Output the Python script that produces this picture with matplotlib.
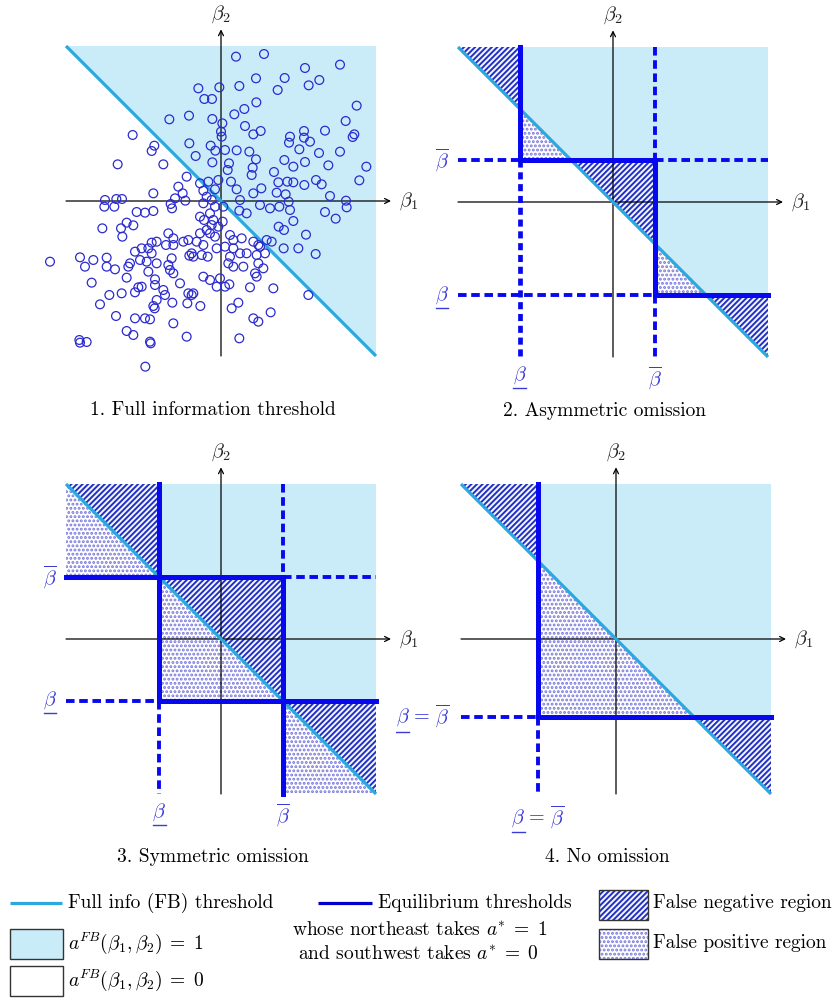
import matplotlib
matplotlib.use('Agg')
import matplotlib.pyplot as plt
from matplotlib.patches import Polygon, Rectangle

plt.rcParams['font.family'] = 'cmr10'
plt.rcParams['mathtext.fontset'] = 'cm'
plt.rcParams['axes.unicode_minus'] = False
plt.rcParams['hatch.linewidth'] = 1.4

# colours
FB_COLOR = '#2aa8df'
FILL = '#c9ecf8'
EQ = '#0808ee'
HATCH = '#2030c4'
DOTS = '#7878dc'
LABEL = '#3a3ad8'
PTS = '#2b2bd0'

# box half-width (beta units) and thresholds of each panel
B = 4.65
asym_lo, asym_hi = -2.8, 1.25
sym_lo, sym_hi = -1.85, 1.85
noom_t = -2.33

# panel 1: draws (beta1, beta2)
beta1_pts = [
    0.45, 1.29, 2.52, 3.57, 1.05, 1.91, 2.95, 2.63, 1.70, 0.55, -0.05, -0.68, -0.50, -0.27, 1.06, 4.07, 0.70, 0.40,
    -1.55, -0.96, -0.26, 0.04, 0.72, 0.00, 0.02, 0.97, 1.19, 2.49, 3.12, 3.74, 2.07, 2.04, 2.49, 2.67, 4.00, 3.95, -2.65,
    -0.95, -0.31, -0.17, 0.12, 0.47, 0.85, 1.05, -0.76, -2.00, -2.08, -1.73, -3.10, -0.26, 0.24, 0.20, 1.90, 2.17, 2.52,
    2.35, 2.94, 3.57, 3.22, 4.36, 4.15, 0.95, 0.92, 1.59,
    -1.03, -0.63, -0.38, -0.08, 0.30, 0.47, -0.18, 1.72, 1.99, 2.17, 2.50, 2.85, 3.02, 1.21, 0.97, 1.67, 1.94, 3.27,
    3.75, 3.77, -1.28, -1.15, -0.53, -0.43, -2.03, -1.07, -1.38,
    -3.48, -3.14, -2.97, -3.50, -3.20, -1.51, -1.47,
    -0.53, -0.28, -0.18, 0.07, 0.57, 0.55, 0.77, 1.17, 1.47, 1.75, 2.03, 2.07, 3.12, 3.44, 2.17, 1.73, 1.89, 2.55, 2.32,
    2.84, 1.88,
    -2.53, -2.28, -2.03, -3.56, -3.00, -2.83, -2.63, -2.96,
    -0.63, -0.51, -0.33, -0.23, -0.08, 0.05, -0.28, -0.43, -0.18, -0.63, -0.33,
    -1.13, -0.98, -0.73, -0.53, -1.58, -1.43, -1.43, -1.65, -1.93, -2.08, -2.18, -2.38, -2.58,
    0.27, 0.37, 0.62, 0.12, 0.37, 0.77, 0.57, 0.97, 1.12, 1.37, 1.52, 1.17, -0.13, -0.40, -0.88, -0.95, -0.83, -0.58,
    0.27, 0.22, 0.37, 0.67, 1.07, 1.32, 1.12, 1.27, 1.02, 1.07,
    -5.13, -4.23, -4.08, -3.83, -3.43, -3.43, -3.18, -2.73, -2.78, -2.43, -2.23, -1.93, -1.58, -1.53, -1.43, -1.23,
    -1.48, -2.08,
    -3.88, -2.83, -2.18, -1.98, -2.48, -2.58, -2.38, -1.98, -1.73, -1.68, -1.93, -2.03, -0.98, -0.88, -0.83, -0.53,
    -0.33, -0.03, -0.13, 0.12, 0.25, 0.87, 1.57,
    -3.35, -2.98, -3.63, -1.46, -1.01, -0.62, -1.99, -3.15, -2.58, -2.28, -2.13, -1.43, 0.32, 0.52, 0.97, 1.12, 1.49,
    2.62,
    -2.83, -2.63, -1.03, -2.13, -2.11, -4.25, -4.23, -4.03, 0.55, -2.27,
]
beta2_pts = [
    4.33, 4.41, 3.99, 4.09, 3.68, 3.69, 3.63, 3.47, 3.33, 3.45, 3.41, 3.38, 3.06, 3.06, 2.96, 2.86, 2.76, 2.60,
    2.45, 2.56, 2.46, 2.33, 2.25, 2.08, 1.93, 2.00, 2.10, 2.10, 2.11, 2.40, 1.93, 1.75, 1.90, 1.78, 2.00, 1.92, 1.98,
    1.73, 1.66, 1.51, 1.53, 1.52, 1.48, 1.25, 1.35, 1.66, 1.50, 1.10, 1.10, 1.16, 1.13, 0.93, 1.23, 1.03, 1.17,
    1.55, 1.44, 1.48, 1.07, 1.03, 0.62, 1.00, 0.78, 0.87,
    0.73, 0.53, 0.58, 0.63, 0.58, 0.35, 0.35, 0.56, 0.58, 0.56, 0.48, 0.63, 0.50, 0.38, 0.23, 0.25, 0.20, 0.15,
    0.01, -0.19, 0.43, 0.23, 0.31, 0.13, 0.23, 0.01, 0.08,
    0.03, 0.06, 0.06, -0.17, -0.17, -0.09, -0.22,
    -0.07, 0.03, -0.17, -0.17, 0.03, -0.29, -0.37, -0.12, -0.22, -0.17, -0.02, -0.27, -0.33, -0.53, -0.60, -0.77,
    -0.87, -1.01, -1.42, -1.59, -1.42,
    -0.33, -0.35, -0.30, -0.82, -0.82, -0.65, -0.73, -1.07,
    -0.47, -0.57, -0.37, -0.57, -0.77, -0.62, -0.72, -0.87, -1.07, -0.97, -0.97,
    -1.22, -1.17, -1.22, -1.32, -0.97, -1.12, -1.32, -1.32, -1.22, -1.25, -1.42, -1.42, -1.52,
    -1.02, -1.17, -1.12, -1.37, -1.42, -1.57, -1.57, -1.22, -1.32, -1.17, -1.22, -1.37, -1.42, -1.67, -1.57, -1.64,
    -1.67, -1.62, -1.67, -1.87, -1.97, -1.97, -1.62, -1.57, -1.87, -2.02, -2.17, -2.27,
    -1.82, -1.69, -1.97, -1.77, -1.70, -1.97, -2.05, -1.87, -1.97, -1.77, -1.82, -1.87, -1.92, -2.07, -2.17, -2.47,
    -1.72, -1.57,
    -2.45, -2.30, -2.12, -2.35, -2.59, -2.74, -2.57, -2.52, -2.67, -2.82, -2.97, -3.15, -2.77, -2.82, -2.77, -2.27,
    -2.37, -2.32, -2.57, -2.57, -2.50, -2.59, -2.62,
    -2.82, -2.77, -3.10, -3.05, -3.07, -3.15, -3.22, -3.45, -3.52, -3.52, -3.55, -3.67, -3.22, -3.05, -3.52, -3.62,
    -3.34, -2.82,
    -3.90, -4.02, -4.07, -4.22, -4.27, -4.17, -4.25, -4.23, -4.12, -4.97,
]

titles = ['1. Full information threshold', '2. Asymmetric omission',
          '3. Symmetric omission', '4. No omission']

W, H = 839, 998
fig = plt.figure(figsize=(W / 100, H / 100), dpi=100)
renderer = fig.canvas.get_renderer()

S = 155 / B   # pixels per beta unit
L = 6.6       # half range of each panel's axes


def make_panel(cx, cy):
    half = L * S
    ax = fig.add_axes([(cx - half) / W, 1 - (cy + half) / H, 2 * half / W, 2 * half / H])
    ax.set_xlim(-L, L)
    ax.set_ylim(-L, L)
    ax.axis('off')
    return ax


def base(ax, title, ty):
    ax.add_patch(Polygon([(-B, B), (B, B), (B, -B)], closed=True, facecolor=FILL, lw=0, zorder=1))
    ax.annotate('', xy=(B + 0.45, 0), xytext=(-B, 0),
                arrowprops=dict(arrowstyle='->', color='black', lw=0.9, shrinkA=0, shrinkB=0,
                                mutation_scale=9), zorder=4)
    ax.annotate('', xy=(0, B + 0.5), xytext=(0, -B),
                arrowprops=dict(arrowstyle='->', color='black', lw=0.9, shrinkA=0, shrinkB=0,
                                mutation_scale=9), zorder=4)
    ax.text(B + 0.7, 0, r'$\beta_1$', ha='left', va='center', fontsize=14.5, color='#222222')
    ax.text(0, B + 0.95, r'$\beta_2$', ha='center', va='center', fontsize=14.5, color='#222222')
    ax.text(-0.25, ty, title, ha='center', va='center', fontsize=14)


def diagonal(ax):
    ax.plot([-B, B], [B, -B], color=FB_COLOR, lw=2.3, zorder=5, solid_capstyle='butt')


def regions(ax, hatched, dotted):
    for poly in hatched:
        ax.add_patch(Polygon(poly, closed=True, facecolor='#f4f5fe', edgecolor=HATCH, lw=0,
                             hatch='//////', zorder=2))
    for poly in dotted:
        ax.add_patch(Polygon(poly, closed=True, facecolor='white', edgecolor=DOTS, lw=0,
                             hatch='....', zorder=2))


def lines(ax, solid, dashed, dense=()):
    for (x0, y0), (x1, y1) in dashed:
        ax.plot([x0, x1], [y0, y1], color=EQ, lw=2.8, linestyle=(0, (2.2, 1.2)),
                dash_capstyle='butt', zorder=6)
    for (x0, y0), (x1, y1) in dense:
        ax.plot([x0, x1], [y0, y1], color=EQ, lw=3.4, linestyle=(0, (1.5, 1.0)),
                dash_capstyle='butt', zorder=6)
    for (x0, y0), (x1, y1) in solid:
        ax.plot([x0, x1], [y0, y1], color=EQ, lw=3.6, solid_capstyle='projecting', zorder=7)


def beta_label(ax, x, y, kind, ha='center'):
    # kind: 'over', 'under' or 'both' (underlined beta = overlined beta)
    fs = 14.5
    if kind == 'over':
        ax.text(x, y, r'$\overline{\beta}$', ha=ha, va='center', fontsize=fs, color=LABEL)
        return
    s = r'$\beta$' if kind == 'under' else r'$\beta\, =\, \overline{\beta}$'
    t = ax.text(x, y, s, ha=ha, va='center', fontsize=fs, color=LABEL)
    probe = ax.text(0, 0, r'$\beta$', fontsize=fs)
    wb = probe.get_window_extent(renderer).width
    probe.remove()
    bb = t.get_window_extent(renderer)
    inv = ax.transData.inverted()
    (ux0, uy), = inv.transform([(bb.x0 + 0.5, bb.y0 - 1.5)])
    (ux1, _), = inv.transform([(bb.x0 + wb - 0.5, bb.y0 - 1.5)])
    ax.plot([ux0, ux1], [uy, uy], color=LABEL, lw=1.0)


# ---------- panel 1 ----------
ax1 = make_panel(221, 201)
base(ax1, titles[0], -6.27)
diagonal(ax1)
ax1.scatter(beta1_pts, beta2_pts, s=40, facecolors='none', edgecolors=PTS, linewidths=0.9,
            zorder=8, clip_on=False)

# ---------- panel 2 ----------
ax2 = make_panel(613, 202)
lo, hi = asym_lo, asym_hi
base(ax2, titles[1], -6.27)
regions(ax2,
        [[(-B, B), (lo, B), (lo, -lo)], [(-hi, hi), (hi, hi), (hi, -hi)], [(-lo, lo), (B, lo), (B, -B)]],
        [[(lo, -lo), (lo, hi), (-hi, hi)], [(hi, -hi), (hi, lo), (-lo, lo)]])
diagonal(ax2)
lines(ax2,
      solid=[((lo, B), (lo, hi)), ((lo, hi), (hi, hi)), ((hi, hi), (hi, lo)), ((hi, lo), (B, lo))],
      dashed=[((-B, hi), (lo, hi)), ((hi, hi), (B, hi)), ((-B, lo), (hi, lo)),
              ((hi, B), (hi, hi)), ((hi, lo), (hi, -B))],
      dense=[((lo, hi), (lo, -B))])
beta_label(ax2, -5.13, hi, 'over')
beta_label(ax2, -5.13, lo, 'under')
beta_label(ax2, lo, -5.2, 'under')
beta_label(ax2, hi, -5.3, 'over')

# ---------- panel 3 ----------
ax3 = make_panel(221, 639)
lo, hi = sym_lo, sym_hi
base(ax3, titles[2], -6.54)
regions(ax3,
        [[(-B, B), (lo, B), (lo, hi)], [(lo, hi), (hi, hi), (hi, lo)], [(hi, lo), (B, lo), (B, -B)]],
        [[(-B, B), (-B, hi), (lo, hi)], [(lo, hi), (lo, lo), (hi, lo)], [(hi, lo), (hi, -B), (B, -B)]])
diagonal(ax3)
lines(ax3,
      solid=[((-B, hi), (hi, hi)), ((lo, B), (lo, lo)), ((hi, hi), (hi, -B)), ((lo, lo), (B, lo))],
      dashed=[((hi, hi), (B, hi)), ((hi, B), (hi, hi)), ((-B, lo), (lo, lo)), ((lo, lo), (lo, -B))])
beta_label(ax3, -5.13, hi, 'over')
beta_label(ax3, -5.13, lo, 'under')
beta_label(ax3, lo, -5.2, 'under')
beta_label(ax3, hi, -5.3, 'over')

# ---------- panel 4 ----------
ax4 = make_panel(616, 639)
t = noom_t
base(ax4, titles[3], -6.54)
regions(ax4,
        [[(-B, B), (t, B), (t, -t)], [(-t, t), (B, t), (B, -B)]],
        [[(t, -t), (t, t), (-t, t)]])
diagonal(ax4)
lines(ax4,
      solid=[((t, B), (t, t)), ((t, t), (B, t))],
      dashed=[((-B, t), (t, t)), ((t, t), (t, -B))])
beta_label(ax4, -5.8, t, 'both')
beta_label(ax4, t, -5.34, 'both')

# ---------- legend ----------
lg = fig.add_axes([0, 0, 1, 1])
lg.set_xlim(0, W)
lg.set_ylim(H, 0)
lg.axis('off')
fs = 14
lg.plot([10, 62], [903, 903], color=FB_COLOR, lw=2.3, solid_capstyle='butt')
lg.text(68, 903, 'Full info (FB) threshold', ha='left', va='center', fontsize=fs)
lg.add_patch(Rectangle((10, 929), 53, 30, facecolor=FILL, edgecolor='#333333', lw=1.0))
lg.text(68, 943, r'$a^{FB}(\beta_1,\beta_2)\;=\;1$', ha='left', va='center', fontsize=fs)
lg.add_patch(Rectangle((10, 966), 53, 30, facecolor='white', edgecolor='#333333', lw=1.0))
lg.text(68, 980, r'$a^{FB}(\beta_1,\beta_2)\;=\;0$', ha='left', va='center', fontsize=fs)

lg.plot([318, 372], [903, 903], color='#0000cc', lw=2.3, solid_capstyle='butt')
lg.text(378, 903, 'Equilibrium thresholds', ha='left', va='center', fontsize=fs)
lg.text(420, 930, r'whose northeast takes $a^{*}\;=\;1$', ha='center', va='center', fontsize=fs)
lg.text(418, 954, r'and southwest takes $a^{*}\;=\;0$', ha='center', va='center', fontsize=fs)

lg.add_patch(Rectangle((599, 890), 49, 30, facecolor='#f4f5fe', edgecolor=HATCH, lw=0, hatch='//////'))
lg.add_patch(Rectangle((599, 890), 49, 30, fill=False, edgecolor='#333333', lw=1.0))
lg.text(653, 903, 'False negative region', ha='left', va='center', fontsize=fs)
lg.add_patch(Rectangle((599, 929), 49, 30, facecolor='white', edgecolor=DOTS, lw=0, hatch='....'))
lg.add_patch(Rectangle((599, 929), 49, 30, fill=False, edgecolor='#333333', lw=1.0))
lg.text(653, 943, 'False positive region', ha='left', va='center', fontsize=fs)

fig.savefig('out.png', dpi=100)
